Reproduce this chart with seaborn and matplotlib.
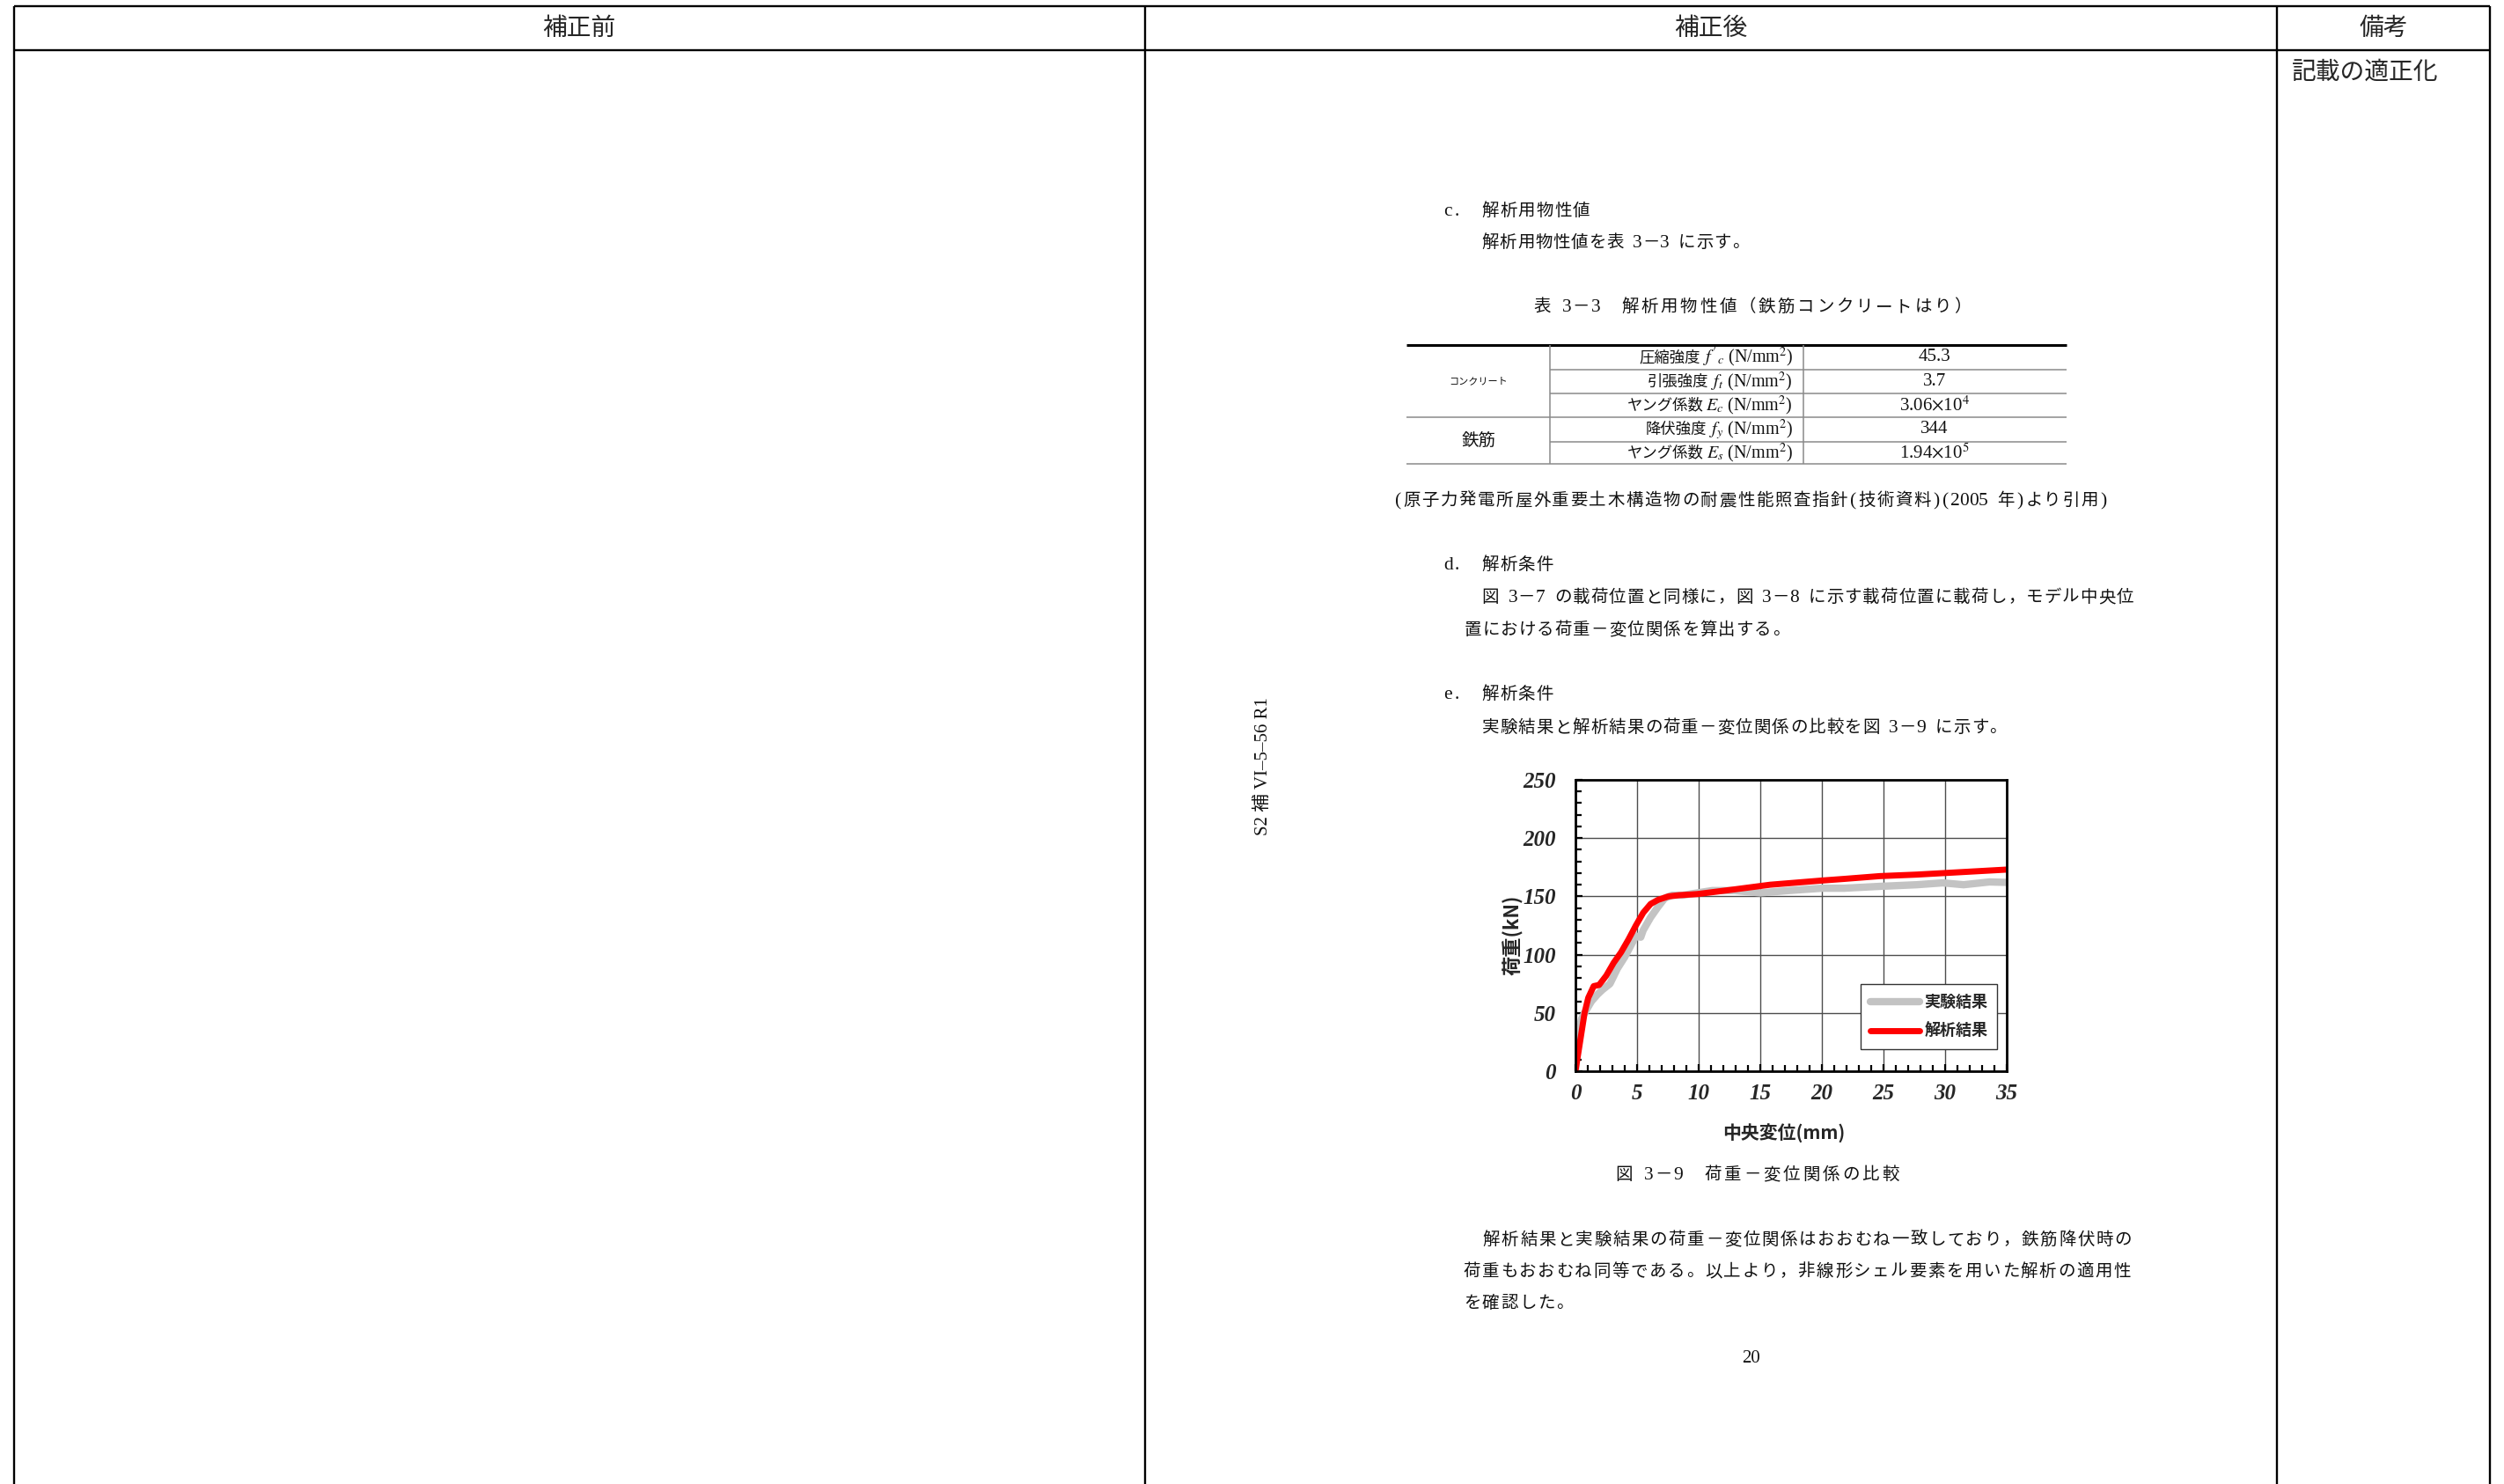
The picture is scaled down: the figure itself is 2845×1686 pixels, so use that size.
import numpy as np
import pandas as pd
import matplotlib
matplotlib.use("Agg")
import matplotlib.pyplot as plt
from matplotlib.font_manager import FontProperties
import seaborn as sns

sns.set_style("white")
plt.rcParams['font.family'] = ['Noto Sans CJK JP', 'DejaVu Sans']
plt.rcParams['mathtext.fontset'] = 'stix'

JP = ['Noto Sans CJK JP', 'DejaVu Sans']
SERIF = ['Liberation Serif', 'Noto Sans CJK JP']

# 荷重-変位関係 (図3-9)
disp_exp = [0, 0.15, 0.5, 0.74, 1.3, 1.8, 2.2, 2.8, 3.4, 4.0, 4.6, 4.9, 5.3, 5.5,
            6.1, 6.7, 7.25, 7.85, 8.7, 9.9, 11.1, 12.9, 15.0, 17.3, 20.0, 21.8,
            24.7, 27.7, 29.8, 31.5, 33.6, 35.0]
load_exp = [0, 30, 45, 50, 60, 66, 70, 75, 88, 98, 110, 116, 115, 121,
            132, 141, 148.5, 151, 151, 153, 155, 155, 153, 155, 157, 157,
            158.6, 160, 161.6, 160, 162.4, 162]
disp_ana = [0, 0.74, 1.04, 1.48, 1.92, 2.5, 3.1, 3.7, 4.3, 4.9, 5.5, 6.1, 6.7,
            7.55, 8.4, 9.9, 12.9, 15.8, 20.0, 21.8, 24.7, 27.7, 30.6, 35.0]
load_ana = [0, 50, 63, 73, 74, 82, 93, 102, 113, 125, 136, 143.5, 147,
            150, 151, 152, 156, 160, 163.6, 165, 167.4, 168.7, 170.4, 173]
series_names = ['実験結果', '解析結果']
series_colors = ['#c3c3c3', '#ff0000']
series_widths = [6, 5]
x_ticks = [0, 5, 10, 15, 20, 25, 30, 35]
y_ticks = [0, 50, 100, 150, 200, 250]

# 表3-3
table_groups = ['コンクリート', '鉄筋']
table_names = ['圧縮強度', '引張強度', 'ヤング係数', '降伏強度', 'ヤング係数']
table_symbols = [r"$f'_c$", r"$f_t$", r"$E_c$", r"$f_y$", r"$E_s$"]
table_values = ['45.3', '3.7', r'3.06$\times$10$^4$', '344', r'1.94$\times$10$^5$']

header_labels = ['補正前', '補正後', '備考']
note_text = '記載の適正化'

text_lines = [
    (1640, 238, 'c.', 20.6),
    (1683, 238, '解析用物性値', 20.6),
    (1683, 274, '解析用物性値を表 3－3 に示す。', 20.3),
    (1741, 347, '表 3－3　解析用物性値（鉄筋コンクリートはり）', 22.2),
    (1583, 567, '(原子力発電所屋外重要土木構造物の耐震性能照査指針(技術資料)(2005 年)より引用)', 21.1),
    (1640, 640, 'd.', 20.6),
    (1683, 640, '解析条件', 20.6),
    (1683, 677, '図 3－7 の載荷位置と同様に，図 3－8 に示す載荷位置に載荷し，モデル中央位', 20.6),
    (1663, 714, '置における荷重－変位関係を算出する。', 20.6),
    (1640, 787, 'e.', 20.6),
    (1683, 787, '解析条件', 20.6),
    (1683, 825, '実験結果と解析結果の荷重－変位関係の比較を図 3－9 に示す。', 20.6),
    (1834, 1333, '図 3－9　荷重－変位関係の比較', 22.4),
    (1684, 1407, '解析結果と実験結果の荷重－変位関係はおおむね一致しており，鉄筋降伏時の', 21.1),
    (1662, 1443, '荷重もおおむね同等である。以上より，非線形シェル要素を用いた解析の適用性', 21.1),
    (1662, 1479, 'を確認した。', 21.1),
]

W, H = 2845, 1686
fig = plt.figure(figsize=(W / 100, H / 100), dpi=100)

# ページ全体 (ピクセル座標)
ov = fig.add_axes([0, 0, 1, 1])
ov.set_xlim(0, W)
ov.set_ylim(H, 0)
ov.axis('off')

ov.hlines([7, 57], 16, 2829, color='black', lw=1.7)
ov.vlines([16, 1301, 2587, 2829], 7, H, color='black', lw=1.7)
for cx, lab in zip([658, 1944, 2708], header_labels):
    ov.text(cx, 32, lab, ha='center', va='center', fontsize=20, family=JP)
ov.text(2604, 82, note_text, ha='left', va='center', fontsize=20, family=JP)


def jtext(x, y, s, pitch, size=14):
    em = size * 100 / 72
    base = y + 0.36 * em
    for ch in s:
        if ord(ch) < 128:
            w = pitch / 2
            if ch != ' ':
                ov.text(x + w / 2, base, ch, ha='center', va='baseline',
                        fontsize=size * 1.1, family=SERIF, color='#111')
        else:
            w = pitch
            ov.text(x + (w - em) / 2, base, ch, ha='left', va='baseline',
                    fontsize=size, family=JP, color='#111')
        x += w


for x, y, s, p in text_lines:
    jtext(x, y, s, p)

ov.text(1989, 1543, '20', ha='center', va='center', fontsize=15, family=SERIF, color='#111')
ov.text(1435, 871, 'S2 補 VI–5–56 R1', rotation=90, ha='center', va='center',
        fontsize=15, family=SERIF, color='#111')

# 表の罫線と文字
row_edges = [392, 420, 447, 474, 502, 527]
ov.hlines(392, 1598, 2348, color='black', lw=2.2)
ov.hlines([420, 447, 502], 1761, 2348, color='#8a8a8a', lw=1.1)
ov.hlines([474, 527], 1598, 2348, color='#8a8a8a', lw=1.1)
ov.vlines([1761, 2049], 392, 527, color='#8a8a8a', lw=1.1)

renderer = fig.canvas.get_renderer()
for i in range(len(table_names)):
    yc = (row_edges[i] + row_edges[i + 1]) / 2
    t = ov.text(2037, yc, table_symbols[i] + ' (N/mm$^2$)', ha='right', va='center',
                fontsize=14.5, family='Liberation Serif', color='#111')
    w = t.get_window_extent(renderer).width
    ov.text(2037 - w - 3, yc, table_names[i], ha='right', va='center',
            fontsize=12.5, family=JP, color='#111')
    ov.text(2198, yc, table_values[i], ha='center', va='center',
            fontsize=15, family='Liberation Serif', color='#111')
ov.text(1680, (row_edges[0] + row_edges[3]) / 2, table_groups[0], ha='center', va='center',
        fontsize=8, family=JP, color='#111')
ov.text(1680, (row_edges[3] + row_edges[5]) / 2, table_groups[1], ha='center', va='center',
        fontsize=14, family=JP, color='#111')

# 荷重-変位グラフ
ax = fig.add_axes([1790 / W, 1 - 1217 / H, 490 / W, 331 / H])
df = pd.DataFrame({
    'disp': disp_exp + disp_ana,
    'load': load_exp + load_ana,
    'series': [series_names[0]] * len(disp_exp) + [series_names[1]] * len(disp_ana),
})
sns.lineplot(data=df, x='disp', y='load', hue='series', hue_order=series_names,
             palette=dict(zip(series_names, series_colors)), sort=False,
             estimator=None, linewidth=5, legend=False, ax=ax)
for line, lw in zip(ax.get_lines(), series_widths):
    line.set_linewidth(lw)

ax.set_xlim(0, 35)
ax.set_ylim(0, 250)
ax.set_xticks(x_ticks)
ax.set_yticks(y_ticks)
ax.set_xticks(np.arange(0, 36, 1), minor=True)
ax.set_yticks(np.arange(0, 251, 10), minor=True)
tick_fp = FontProperties(family='Liberation Serif', weight='bold', style='italic', size=18)
ax.set_xticklabels([str(v) for v in x_ticks], fontproperties=tick_fp)
ax.set_yticklabels([str(v) for v in y_ticks], fontproperties=tick_fp)
ax.grid(True, which='major', color='#4d4d4d', linewidth=1.0)
ax.tick_params(which='both', direction='in', top=False, right=False,
               bottom=True, left=True, width=1.6, color='black')
ax.tick_params(which='major', length=6)
ax.tick_params(which='minor', length=5)
ax.tick_params(axis='y', pad=16)
ax.tick_params(axis='x', pad=10)
for s in ax.spines.values():
    s.set_visible(True)
    s.set_linewidth(2.0)
    s.set_color('black')

ax.set_xlabel('中央変位(mm)', fontsize=15, fontweight='bold', family=JP)
ax.xaxis.set_label_coords(0.484, -0.182)
ax.set_ylabel('荷重(kN)', fontsize=16, fontweight='bold', family=JP)
ax.yaxis.set_label_coords(-0.12, 0.467)

leg = ax.legend(ax.get_lines()[:2], series_names, loc='lower right',
                bbox_to_anchor=(0.978, 0.075), frameon=True, fancybox=False,
                edgecolor='#333333', framealpha=1,
                prop=FontProperties(family=JP, weight='bold', size=13),
                handlelength=3.1, borderpad=0.6, labelspacing=0.8,
                handletextpad=0.3, borderaxespad=0)
leg.get_frame().set_linewidth(1.0)

fig.savefig('out.png', dpi=100)
